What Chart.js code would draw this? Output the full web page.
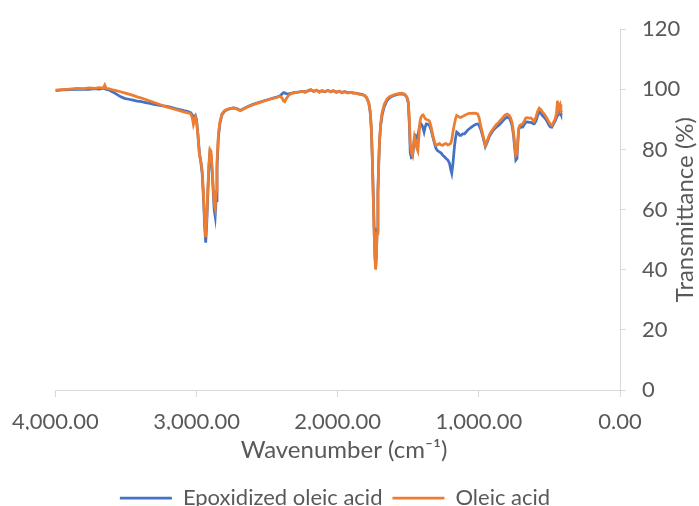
<!DOCTYPE html>
<html><head><meta charset="utf-8">
<script src="https://cdn.jsdelivr.net/npm/chart.js@4"></script>
<style>html,body{margin:0;padding:0;background:#fff;overflow:hidden}</style>
</head><body>
<canvas id="c" width="699" height="506"></canvas>
<script>
// ---- data ----
const seriesNames = ['Epoxidized oleic acid', 'Oleic acid'];
const xTickValues = [4000, 3000, 2000, 1000, 0];
const yTickValues = [0, 20, 40, 60, 80, 100, 120];
const xAxisTitle = 'Wavenumber (cm\u207B\u00B9)';
const yAxisTitle = 'Transmittance (%)';

const wavenumbers = [
  4000, 3950, 3900, 3850, 3800, 3760, 3720, 3690, 3660, 3650,
  3640, 3620, 3600, 3570, 3540, 3510, 3480, 3450, 3420, 3390,
  3360, 3330, 3300, 3270, 3240, 3210, 3180, 3150, 3120, 3090,
  3060, 3040, 3030, 3022, 3015, 3008, 3000, 2990, 2980, 2970,
  2960, 2950, 2942, 2935, 2928, 2920, 2912, 2905, 2898, 2890,
  2882, 2875, 2868, 2862, 2855, 2845, 2835, 2820, 2800, 2780,
  2760, 2740, 2720, 2700, 2690, 2670, 2640, 2600, 2560, 2520,
  2480, 2440, 2410, 2395, 2385, 2375, 2365, 2350, 2330, 2310,
  2290, 2270, 2250, 2230, 2210, 2190, 2170, 2150, 2130, 2110,
  2090, 2070, 2050, 2030, 2010, 1990, 1970, 1950, 1930, 1910,
  1890, 1870, 1850, 1830, 1810, 1795, 1780, 1770, 1762, 1755,
  1748, 1742, 1736, 1731, 1726, 1721, 1715, 1709, 1703, 1695,
  1685, 1670, 1650, 1630, 1600, 1570, 1545, 1525, 1510, 1500,
  1492, 1486, 1478, 1470, 1463, 1456, 1448, 1440, 1432, 1425,
  1418, 1410, 1402, 1395, 1388, 1380, 1372, 1362, 1350, 1338,
  1326, 1314, 1303, 1291, 1279, 1267, 1256, 1244, 1232, 1220,
  1208, 1200, 1192, 1183, 1173, 1165, 1157, 1145, 1135, 1126,
  1114, 1102, 1090, 1078, 1067, 1050, 1035, 1020, 1008, 998,
  985, 970, 954, 940, 926, 914, 900, 890, 875, 860,
  845, 830, 815, 800, 785, 775, 765, 755, 745, 738,
  730, 724, 718, 710, 700, 690, 678, 667, 655, 643,
  631, 620, 608, 595, 584, 572, 560, 548, 537, 525,
  513, 502, 492, 483, 471, 459, 450, 443, 437, 431,
  425, 419, 410
];

const epoxidizedOleicAcid = [
  99.6, 99.8, 99.9, 100.0, 100.1, 100.0, 100.2, 100.1, 100.3, 100.2,
  100.0, 99.8, 99.3, 98.5, 97.6, 97.0, 96.7, 96.4, 96.1, 95.9,
  95.6, 95.3, 95.0, 94.7, 94.5, 94.3, 94.0, 93.6, 93.3, 92.9,
  92.6, 92.2, 91.5, 90.5, 91.0, 91.3, 90.0, 85.0, 79.0, 76.0,
  72.0, 63.0, 54.0, 49.0, 55.0, 65.0, 74.0, 79.0, 78.5, 73.0,
  66.0, 60.0, 57.8, 63.0, 74.0, 84.0, 88.5, 91.5, 92.8, 93.3,
  93.6, 93.8, 93.7, 93.2, 93.0, 93.5, 94.2, 95.0, 95.6, 96.2,
  96.8, 97.3, 97.8, 98.4, 98.9, 98.8, 98.6, 98.5, 98.7, 98.9,
  99.0, 99.2, 99.3, 99.2, 99.5, 99.8, 99.4, 99.6, 99.3, 99.5,
  99.2, 99.6, 99.3, 99.5, 99.1, 99.3, 99.0, 99.2, 98.9, 99.0,
  98.8, 98.7, 98.5, 98.3, 98.0, 97.2, 95.5, 92.5, 87.0, 77.5,
  65.0, 54.0, 45.0, 40.6, 45.0, 53.0, 66.0, 76.0, 83.0, 88.0,
  91.5, 94.2, 96.3, 97.3, 98.0, 98.4, 98.5, 98.2, 97.3, 95.5,
  88.0, 79.0, 77.3, 77.5, 80.5, 84.0, 84.5, 83.5, 84.0, 86.5,
  88.0, 88.5, 88.0, 87.0, 85.8, 87.5, 88.5, 88.4, 88.0, 86.5,
  84.2, 82.0, 80.3, 79.5, 79.2, 78.8, 78.1, 77.6, 77.0, 76.5,
  75.4, 73.5, 72.1, 75.5, 80.9, 83.8, 85.8, 85.3, 84.7, 84.7,
  85.2, 85.2, 85.8, 86.5, 86.9, 87.5, 88.0, 88.4, 88.5, 88.0,
  86.5, 84.0, 81.0, 82.5, 84.3, 85.2, 86.3, 86.8, 87.5, 88.0,
  88.7, 89.5, 90.3, 90.7, 90.5, 89.5, 88.0, 85.0, 80.0, 76.5,
  77.0, 82.0, 86.5, 87.5, 87.4, 87.4, 88.3, 89.1, 89.2, 89.0,
  89.0, 88.7, 88.5, 89.5, 91.2, 92.6, 92.0, 91.2, 90.7, 90.0,
  89.0, 88.0, 87.5, 87.4, 88.5, 89.5, 90.5, 92.6, 92.0, 93.0,
  92.5, 91.8, 92.0
];

const oleicAcid = [
  99.7, 99.9, 100.1, 100.3, 100.2, 100.5, 100.3, 100.6, 100.4, 101.4,
  100.3, 100.2, 99.9, 99.6, 99.2, 98.8, 98.4, 98.0, 97.5, 97.1,
  96.6, 96.1, 95.6, 95.1, 94.6, 94.1, 93.7, 93.3, 92.9, 92.5,
  92.2, 91.8, 90.5, 88.3, 89.5, 90.8, 89.5, 84.5, 78.5, 76.2,
  73.0, 64.5, 56.0, 50.8, 57.0, 67.0, 75.5, 80.0, 79.5, 74.5,
  68.0, 62.0, 60.5, 66.0, 76.0, 85.0, 89.0, 91.8, 93.0, 93.4,
  93.6, 93.8, 93.6, 93.1, 92.9, 93.4, 94.1, 94.9, 95.5, 96.1,
  96.7, 97.2, 97.6, 97.2, 96.2, 95.9, 96.8, 97.9, 98.6, 98.8,
  98.9, 99.1, 99.4, 99.0, 99.6, 99.9, 99.2, 99.7, 99.0, 99.6,
  99.3, 99.6, 99.1, 99.6, 99.0, 99.4, 98.8, 99.3, 98.8, 99.0,
  98.7, 98.7, 98.4, 98.2, 98.0, 97.3, 95.6, 92.8, 87.5, 77.5,
  64.0, 52.5, 44.0, 40.0, 44.5, 52.0, 65.0, 75.5, 83.5, 88.8,
  92.3, 95.0, 96.8, 97.6, 98.2, 98.6, 98.7, 98.4, 97.5, 96.0,
  90.0, 82.0, 79.0, 78.0, 81.5, 84.3, 83.0, 80.5, 79.5, 84.0,
  89.0, 90.7, 91.3, 91.5, 91.0, 90.3, 90.0, 89.8, 89.5, 87.5,
  84.7, 82.5, 81.4, 81.6, 82.0, 81.5, 81.4, 81.8, 82.0, 81.5,
  81.7, 82.0, 83.2, 86.0, 88.5, 90.2, 91.3, 91.0, 90.7, 90.7,
  91.0, 91.3, 91.6, 91.9, 92.0, 92.0, 92.1, 92.0, 91.8, 90.5,
  87.5, 84.5, 81.4, 83.0, 84.8, 85.8, 86.8, 87.4, 88.3, 89.0,
  89.8, 90.6, 91.4, 91.8, 91.4, 90.5, 89.0, 86.0, 81.0, 78.0,
  78.5, 83.0, 87.0, 88.0, 88.3, 88.5, 89.5, 90.5, 90.6, 90.4,
  90.5, 90.0, 89.4, 90.8, 92.6, 93.7, 93.2, 92.4, 91.8, 91.0,
  90.0, 89.0, 88.3, 88.0, 89.0, 90.2, 92.0, 96.2, 93.5, 94.5,
  95.0, 92.6, 93.0
];

// ---- chart ----
const FONT = 'Lato, "Open Sans", "Noto Sans", sans-serif';
const TEXT = '#595959';
const AXIS = '#D9D9D9';
Chart.defaults.font.family = FONT;
Chart.defaults.color = TEXT;

const fmt = v => Number(v).toLocaleString('en-US', {minimumFractionDigits: 2, maximumFractionDigits: 2});

const customPlugin = {
  id: 'customLayout',
  afterLayout(chart) {
    const t = chart.titleBlock;
    if (t) { t.left = 0; t.right = 688; t.width = 688; t.top = 435.6; t.bottom = t.top + t.height; }
    const l = chart.legend;
    if (l) { l.left = 0; l.right = 670; l.width = 670; l.top = 477; l.bottom = l.top + l.height; }
  },
  afterDraw(chart) {
    const ctx = chart.ctx;
    const ys = chart.scales.y;
    ctx.save();
    ctx.fillStyle = TEXT;
    ctx.font = '24px ' + FONT;
    ctx.textAlign = 'center';
    ctx.textBaseline = 'middle';
    ctx.translate(685, (ys.top + ys.bottom) / 2);
    ctx.rotate(-Math.PI / 2);
    ctx.fillText(yAxisTitle, 0, 0);
    ctx.restore();
  }
};

new Chart(document.getElementById('c'), {
  type: 'line',
  data: {
    datasets: [
      {
        label: seriesNames[0],
        data: wavenumbers.map((x, i) => ({x: x, y: epoxidizedOleicAcid[i]})),
        borderColor: '#4472C4', backgroundColor: '#4472C4',
        borderWidth: 2.75, pointRadius: 0, tension: 0, order: 2
      },
      {
        label: seriesNames[1],
        data: wavenumbers.map((x, i) => ({x: x, y: oleicAcid[i]})),
        borderColor: '#ED7D31', backgroundColor: '#ED7D31',
        borderWidth: 2.75, pointRadius: 0, tension: 0, order: 1
      }
    ]
  },
  options: {
    responsive: false,
    animation: false,
    devicePixelRatio: 1,
    layout: {padding: {left: 55, top: 24, right: 0, bottom: 5.2}},
    scales: {
      x: {
        type: 'linear', reverse: true,
        min: Math.min(...xTickValues), max: Math.max(...xTickValues),
        afterBuildTicks: s => { s.ticks = xTickValues.map(v => ({value: v})); },
        afterFit: s => { s.height = 40; },
        ticks: {callback: v => fmt(v), color: TEXT, font: {size: 22}, padding: 12, maxRotation: 0, autoSkip: false},
        grid: {drawOnChartArea: false, drawTicks: true, tickLength: 7, color: AXIS},
        border: {color: AXIS, width: 1}
      },
      y: {
        position: 'right',
        min: Math.min(...yTickValues), max: Math.max(...yTickValues),
        afterBuildTicks: s => { s.ticks = yTickValues.map(v => ({value: v})); },
        afterFit: s => { s.width = 79; },
        ticks: {color: TEXT, font: {size: 22}, padding: 16},
        grid: {drawOnChartArea: false, drawTicks: true, tickLength: 6, color: AXIS},
        border: {color: AXIS, width: 1}
      }
    },
    plugins: {
      legend: {
        position: 'bottom',
        labels: {
          usePointStyle: true, pointStyle: 'line', pointStyleWidth: 52,
          font: {size: 22}, color: TEXT, padding: 10,
          sort: (a, b) => a.datasetIndex - b.datasetIndex
        }
      },
      title: {
        display: true, position: 'bottom', text: xAxisTitle, weight: 500,
        font: {size: 24, weight: 'normal'}, color: TEXT, padding: {top: 0, bottom: 0}
      },
      tooltip: {enabled: false}
    }
  },
  plugins: [customPlugin]
});
</script>
</body></html>
